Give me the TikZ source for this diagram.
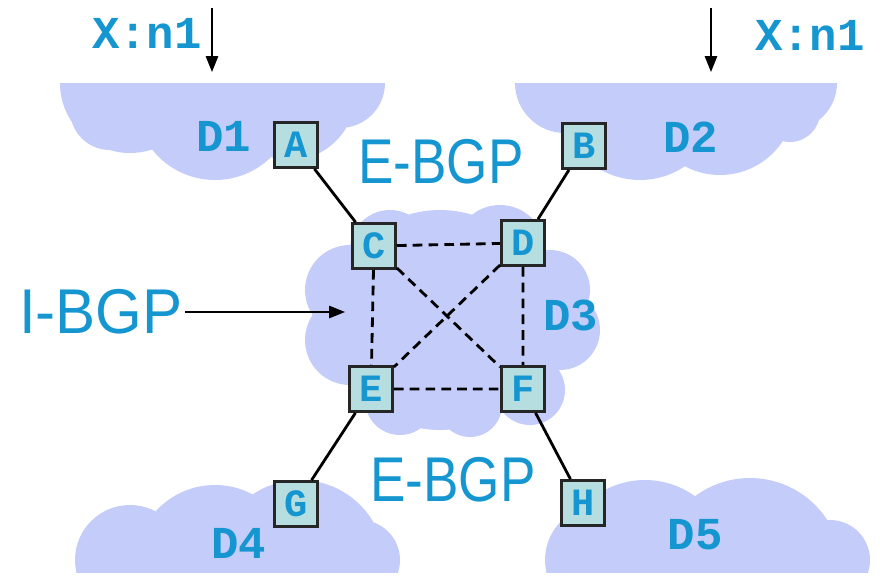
\documentclass[tikz,border=0pt]{standalone}
\usepackage{fontspec}
\usepackage{graphicx}
\setmainfont{Liberation Sans}
\newfontfamily\cour{Liberation Mono}
\usetikzlibrary{arrows.meta}
\definecolor{txtc}{RGB}{22,150,208}
\definecolor{cloudc}{RGB}{196,204,250}
\definecolor{boxc}{RGB}{182,222,224}
\begin{document}
\begin{tikzpicture}[x=0.02cm,y=-0.02cm,
  rtr/.style={draw=black!85,line width=1.6pt,fill=boxc,minimum width=0.86cm,minimum height=0.9cm,inner sep=0pt,text=txtc,font=\cour\bfseries\fontsize{22}{22}\selectfont},
  dom/.style={text=txtc,font=\cour\bfseries\fontsize{26}{26}\selectfont},
  bgp/.style={text=txtc,inner sep=1pt,font=\fontsize{36}{36}\selectfont},
  link/.style={line width=1.6pt},
  ilink/.style={line width=1.6pt,dash pattern=on 5.5pt off 3.5pt},
  tip/.style={line width=0.9pt,-{Triangle[length=9pt,width=7pt]}}]
\useasboundingbox (0,0) rectangle (880,576);
% clouds
\begin{scope}
\clip (0,83) rectangle (880,572);
\fill[cloudc] (130,83) circle (70) (110,110) circle (40) (215,100) circle (80) (290,95) circle (65) (340,83) circle (45);
\fill[cloudc] (565,83) circle (50) (640,100) circle (80) (720,100) circle (75) (790,83) circle (47) (790,112) circle (30);
\fill[cloudc] (440,320) circle (110) (350,290) circle (45) (350,340) circle (45) (390,250) circle (40) (500,250) circle (45)
  (550,290) circle (40) (560,330) circle (40) (530,390) circle (35) (400,400) circle (35) (470,405) circle (32);
\fill[cloudc] (130,560) circle (55) (215,565) circle (80) (300,565) circle (85) (360,560) circle (40);
\fill[cloudc] (600,560) circle (55) (645,565) circle (85) (750,570) circle (92) (830,560) circle (40);
\end{scope}
% routers
\node[rtr] (A) at (296,145) {A};
\node[rtr] (B) at (584,146) {B};
\node[rtr] (C) at (374,246) {C};
\node[rtr] (D) at (523,243) {D};
\node[rtr] (E) at (371,389) {E};
\node[rtr] (F) at (523,389) {F};
\node[rtr] (G) at (296,504) {G};
\node[rtr] (H) at (583,503) {H};
\draw[link] (A)--(C) (B)--(D) (E)--(G) (F)--(H);
\draw[ilink] (C)--(D) (C)--(E) (D)--(F) (E)--(F) (C)--(F) (D)--(E);
% labels
\node[dom] (d1) at (224,136) {D1};
\node[dom] (d2) at (691,137) {D2};
\node[dom] (d3) at (571,315) {D3};
\node[dom] (d4) at (239,543) {D4};
\node[dom] (d5) at (695,535) {D5};
\node[dom] (x1) at (147,33) {X:n1};
\node[dom] (x2) at (810,35) {X:n1};
\node[bgp] (eb1) at (441,162) {\scalebox{0.84}[1]{E-BGP}};
\node[bgp] (eb2) at (453,480) {\scalebox{0.84}[1]{E-BGP}};
\node[bgp] (ib) at (101,312) {\scalebox{0.95}[1]{I-BGP}};
\coordinate (p1) at (212,8); \coordinate (q1) at (212,72);
\coordinate (p2) at (711,8); \coordinate (q2) at (711,72);
\coordinate (q3) at (345,312);
\draw[tip] (p1)--(q1);
\draw[tip] (p2)--(q2);
\draw[tip] (ib.east)--(q3);
\end{tikzpicture}
\end{document}
